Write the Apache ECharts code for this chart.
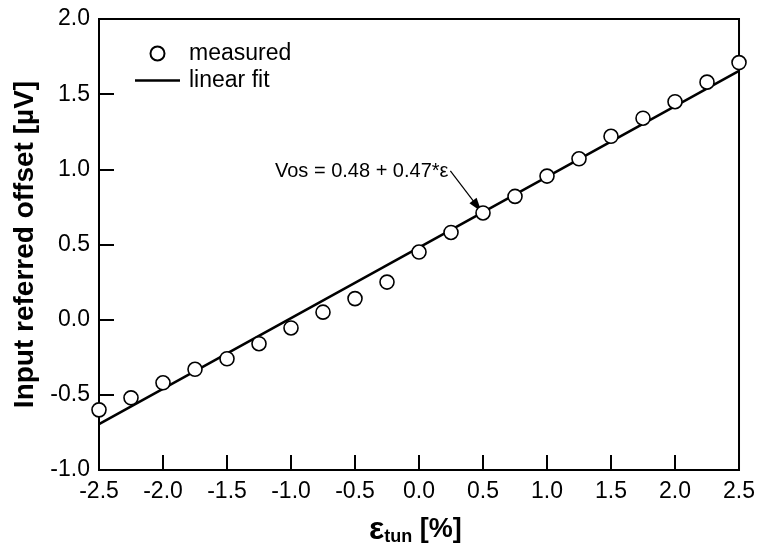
<!DOCTYPE html>
<html>
<head>
<meta charset="utf-8">
<script src="https://cdn.jsdelivr.net/npm/echarts@6/dist/echarts.min.js"></script>
<style>
  html, body { margin: 0; padding: 0; background: #fff; }
  #chart { width: 758px; height: 549px; }
</style>
</head>
<body>
<div id="chart"></div>
<script>
// Tuning strain (%) and measured input referred offset (µV)
const strain = [-2.5, -2.25, -2.0, -1.75, -1.5, -1.25, -1.0, -0.75, -0.5, -0.25,
                0.0, 0.25, 0.5, 0.75, 1.0, 1.25, 1.5, 1.75, 2.0, 2.25, 2.5];
const offset = [-0.6, -0.52, -0.42, -0.33, -0.26, -0.16, -0.055, 0.05, 0.14, 0.25,
                0.45, 0.58, 0.71, 0.82, 0.955, 1.07, 1.22, 1.34, 1.45, 1.58, 1.71];

// Linear fit Vos = 0.48 + 0.47*eps, evaluated at the ends of the strain range
const fitX = [-2.5, 2.5];
const fitY = [-0.695, 1.655];

// Tick labels
const xTicks = ['-2.5', '-2.0', '-1.5', '-1.0', '-0.5', '0.0', '0.5', '1.0', '1.5', '2.0', '2.5'];
const yTicks = ['-1.0', '-0.5', '0.0', '0.5', '1.0', '1.5', '2.0'];

const FONT = '"Liberation Sans", Arial, Helvetica, sans-serif';

const chart = echarts.init(document.getElementById('chart'), null, { renderer: 'canvas' });

const axisCommon = {
  type: 'value',
  interval: 0.5,
  splitLine: { show: false },
  axisLine: { show: true, onZero: false, lineStyle: { color: '#000', width: 2 } },
  axisTick: { show: true, inside: true, length: 15, lineStyle: { color: '#000', width: 2 } },
  axisLabel: { color: '#000', fontFamily: FONT, fontSize: 23 }
};

chart.setOption({
  animation: false,
  backgroundColor: '#fff',
  grid: {
    left: 99, right: 16, top: 19, bottom: 79,
    show: true, borderColor: '#000', borderWidth: 2
  },
  xAxis: Object.assign({}, axisCommon, {
    min: -2.5, max: 2.5,
    axisLabel: Object.assign({}, axisCommon.axisLabel, {
      margin: 10,
      formatter: v => xTicks[Math.round((v + 2.5) / 0.5)]
    })
  }),
  yAxis: Object.assign({}, axisCommon, {
    min: -1.0, max: 2.0,
    name: 'Input referred offset [\u00b5V]',
    nameLocation: 'middle',
    nameGap: 60,
    nameTextStyle: { color: '#000', fontFamily: FONT, fontSize: 28, fontWeight: 'bold' },
    axisLabel: Object.assign({}, axisCommon.axisLabel, {
      margin: 9,
      formatter: v => yTicks[Math.round((v + 1.0) / 0.5)]
    })
  }),
  legend: {
    orient: 'vertical',
    left: 135, top: 42,
    padding: 0,
    itemWidth: 45, itemHeight: 14,
    itemGap: 4,
    textStyle: { color: '#000', fontFamily: FONT, fontSize: 23, padding: [0, 0, 0, 4] },
    data: [
      { name: 'measured', icon: 'circle' },
      { name: 'linear fit', icon: 'path://M0,0H45V2.4H0Z' }
    ]
  },
  series: [
    {
      name: 'linear fit',
      type: 'line',
      data: fitX.map((x, i) => [x, fitY[i]]),
      symbol: 'none',
      lineStyle: { color: '#000', width: 2.5 },
      itemStyle: { color: '#000' },
      z: 2,
      markLine: {
        silent: true,
        symbol: ['none', 'triangle'],
        symbolSize: [9, 14],
        lineStyle: { color: '#000', width: 1.2, type: 'solid' },
        label: { show: false },
        data: [[
          { coord: [0.245, 0.989] },
          { coord: [0.455, 0.755] }
        ]]
      }
    },
    {
      name: 'measured',
      type: 'scatter',
      data: strain.map((x, i) => [x, offset[i]]),
      symbol: 'circle',
      symbolSize: 14,
      itemStyle: { color: '#fff', borderColor: '#000', borderWidth: 1.6, opacity: 1 },
      z: 5
    }
  ],
  graphic: [
    {
      type: 'text',
      left: 275, top: 161,
      style: {
        text: 'Vos = 0.48 + 0.47*\u03b5',
        font: '20px ' + FONT,
        fill: '#000'
      }
    },
    {
      type: 'text',
      left: 369, top: 514,
      style: {
        rich: {
          e: { fontFamily: FONT, fontSize: 32, fontWeight: 'bold', fill: '#000' },
          s: { fontFamily: FONT, fontSize: 18, fontWeight: 'bold', fill: '#000', padding: [14, 0, 0, 0] },
          u: { fontFamily: FONT, fontSize: 27, fontWeight: 'bold', fill: '#000' }
        },
        text: '{e|\u03b5}{s|tun}{u| [%]}'
      }
    }
  ]
});
</script>
</body>
</html>
